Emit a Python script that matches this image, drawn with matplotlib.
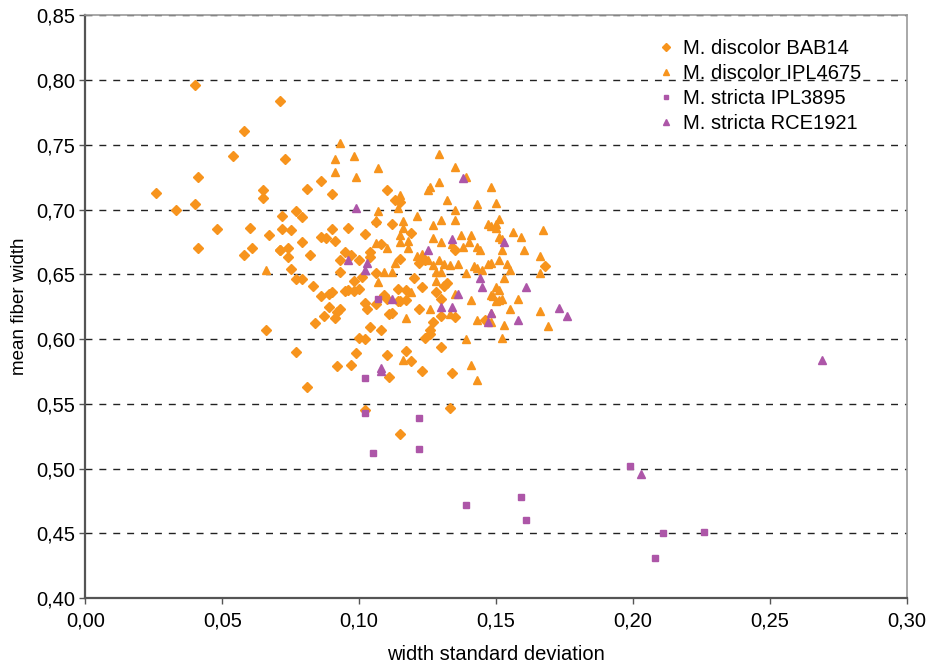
import matplotlib.pyplot as plt
from matplotlib.ticker import FuncFormatter, MultipleLocator

plt.rcParams['font.family'] = ['Liberation Sans', 'DejaVu Sans']
plt.rcParams['font.size'] = 14

ORANGE = '#F7941D'
PURPLE = '#AD56A8'

# M. discolor BAB14 (width sd, mean width)
bab14_sd = [0.040, 0.071, 0.058, 0.054, 0.041, 0.026, 0.065, 0.065, 0.033, 0.040,
            0.048, 0.060, 0.067, 0.041, 0.061, 0.058, 0.071, 0.066,
            0.073, 0.086, 0.081, 0.090, 0.110, 0.113, 0.115, 0.077, 0.072, 0.079,
            0.106, 0.112, 0.072, 0.075, 0.090, 0.096, 0.102, 0.119, 0.086, 0.088,
            0.091, 0.079, 0.108, 0.071, 0.074, 0.082, 0.074, 0.095, 0.104, 0.097,
            0.093, 0.100, 0.104, 0.115,
            0.075, 0.093, 0.101, 0.106, 0.120, 0.122, 0.124, 0.077, 0.079, 0.083,
            0.098, 0.100, 0.086, 0.089, 0.090, 0.095, 0.096, 0.098, 0.114, 0.117,
            0.123, 0.109, 0.110, 0.114, 0.115, 0.117, 0.102, 0.103, 0.106, 0.089,
            0.093, 0.092, 0.087, 0.091, 0.084, 0.111, 0.112, 0.122, 0.104, 0.108,
            0.100, 0.102, 0.124, 0.077, 0.099, 0.110, 0.117, 0.119, 0.092, 0.097,
            0.111, 0.123,
            0.081, 0.134, 0.102, 0.133, 0.115,
            0.135, 0.168, 0.132, 0.131, 0.128, 0.130, 0.130, 0.135, 0.146, 0.127,
            0.126, 0.126, 0.130]
bab14_mean = [0.796, 0.784, 0.761, 0.741, 0.725, 0.713, 0.715, 0.709, 0.700, 0.704,
              0.685, 0.686, 0.680, 0.670, 0.670, 0.665, 0.669, 0.607,
              0.739, 0.722, 0.716, 0.712, 0.715, 0.707, 0.706, 0.699, 0.695, 0.694,
              0.690, 0.689, 0.685, 0.684, 0.685, 0.686, 0.681, 0.682, 0.679, 0.678,
              0.676, 0.675, 0.673, 0.669, 0.670, 0.665, 0.663, 0.667, 0.667, 0.665,
              0.661, 0.661, 0.663, 0.662,
              0.654, 0.652, 0.648, 0.651, 0.647, 0.659, 0.661, 0.646, 0.646, 0.641,
              0.645, 0.639, 0.633, 0.635, 0.636, 0.637, 0.638, 0.637, 0.639, 0.638,
              0.640, 0.634, 0.631, 0.629, 0.629, 0.630, 0.628, 0.623, 0.627, 0.625,
              0.623, 0.621, 0.618, 0.616, 0.612, 0.619, 0.620, 0.623, 0.609, 0.607,
              0.601, 0.600, 0.601, 0.590, 0.589, 0.588, 0.591, 0.583, 0.579, 0.580,
              0.571, 0.575,
              0.563, 0.574, 0.545, 0.547, 0.527,
              0.669, 0.656, 0.643, 0.641, 0.636, 0.631, 0.618, 0.617, 0.615, 0.613,
              0.607, 0.604, 0.594]

# M. discolor IPL4675
ipl4675_sd = [0.066, 0.093, 0.091, 0.098, 0.091, 0.107, 0.099, 0.115, 0.125, 0.114,
              0.107, 0.121, 0.116, 0.106, 0.116, 0.115, 0.118, 0.115, 0.106, 0.110,
              0.118, 0.121, 0.123, 0.113, 0.109, 0.112, 0.107, 0.119, 0.117, 0.116,
              0.141, 0.143,
              0.129, 0.135, 0.139, 0.129, 0.126, 0.148, 0.132, 0.143, 0.150, 0.135,
              0.130, 0.135, 0.127, 0.147, 0.148, 0.151, 0.150, 0.150, 0.156, 0.167,
              0.127, 0.137, 0.141, 0.130, 0.140, 0.151, 0.152, 0.159, 0.134, 0.138,
              0.143, 0.144, 0.152, 0.160, 0.166, 0.166, 0.125, 0.129, 0.131, 0.127,
              0.133, 0.136, 0.142, 0.143, 0.147, 0.148, 0.151, 0.154, 0.155, 0.145,
              0.128, 0.130, 0.139, 0.153, 0.128, 0.150, 0.151, 0.135, 0.148, 0.149,
              0.152, 0.158, 0.141, 0.150, 0.151, 0.126, 0.155, 0.166, 0.133, 0.148,
              0.143, 0.148, 0.153, 0.169, 0.139, 0.152]
ipl4675_mean = [0.653, 0.751, 0.739, 0.741, 0.729, 0.732, 0.725, 0.711, 0.715, 0.701,
                0.699, 0.695, 0.691, 0.692, 0.686, 0.680, 0.676, 0.675, 0.674, 0.670,
                0.670, 0.664, 0.666, 0.659, 0.652, 0.652, 0.644, 0.636, 0.616, 0.584,
                0.580, 0.568,
                0.743, 0.733, 0.725, 0.721, 0.717, 0.717, 0.707, 0.704, 0.705, 0.700,
                0.692, 0.692, 0.688, 0.689, 0.687, 0.693, 0.686, 0.689, 0.683, 0.684,
                0.678, 0.680, 0.680, 0.675, 0.675, 0.679, 0.677, 0.679, 0.673, 0.671,
                0.671, 0.669, 0.669, 0.669, 0.664, 0.651, 0.661, 0.661, 0.658, 0.657,
                0.657, 0.658, 0.656, 0.655, 0.658, 0.659, 0.661, 0.658, 0.653, 0.653,
                0.652, 0.652, 0.651, 0.647, 0.645, 0.640, 0.638, 0.635, 0.634, 0.633,
                0.631, 0.631, 0.630, 0.629, 0.630, 0.623, 0.623, 0.622, 0.619, 0.620,
                0.615, 0.613, 0.611, 0.610, 0.600, 0.601]

# M. stricta IPL3895
ipl3895_sd = [0.107, 0.102, 0.102, 0.122, 0.105, 0.122, 0.139, 0.159, 0.161,
              0.199, 0.211, 0.226, 0.208]
ipl3895_mean = [0.631, 0.570, 0.543, 0.539, 0.512, 0.515, 0.472, 0.478, 0.460,
                0.502, 0.450, 0.451, 0.431]

# M. stricta RCE1921
rce1921_sd = [0.099, 0.125, 0.096, 0.103, 0.102, 0.112, 0.108, 0.108, 0.138, 0.134,
              0.153, 0.144, 0.145, 0.161, 0.136, 0.130, 0.134, 0.148, 0.147, 0.158,
              0.173, 0.176, 0.269, 0.203]
rce1921_mean = [0.701, 0.669, 0.661, 0.659, 0.653, 0.631, 0.578, 0.575, 0.724, 0.677,
                0.675, 0.647, 0.640, 0.640, 0.635, 0.625, 0.625, 0.620, 0.613, 0.615,
                0.624, 0.618, 0.584, 0.496]

fig = plt.figure(figsize=(9.37, 6.63), dpi=100)
ax = fig.add_axes([0.091, 0.098, 0.877, 0.879])

ax.plot(bab14_sd, bab14_mean, 'D', color=ORANGE, markersize=5.2, linestyle='none',
        label='M. discolor BAB14')
ax.plot(ipl4675_sd, ipl4675_mean, '^', color=ORANGE, markersize=5.2, linestyle='none',
        label='M. discolor IPL4675')
ax.plot(ipl3895_sd, ipl3895_mean, 's', color=PURPLE, markersize=4.0, linestyle='none',
        label='M. stricta IPL3895')
ax.plot(rce1921_sd, rce1921_mean, '^', color=PURPLE, markersize=5.2, linestyle='none',
        label='M. stricta RCE1921')

ax.set_xlim(0, 0.30)
ax.set_ylim(0.40, 0.85)
ax.xaxis.set_major_locator(MultipleLocator(0.05))
ax.yaxis.set_major_locator(MultipleLocator(0.05))
comma = FuncFormatter(lambda v, pos: f'{v:.2f}'.replace('.', ','))
ax.xaxis.set_major_formatter(comma)
ax.yaxis.set_major_formatter(comma)
ax.tick_params(direction='out', length=4, width=1, colors='#555555',
               labelcolor='black', labelsize=14.5)
ax.tick_params(axis='x', pad=6)

# dashed horizontal grid
ax.yaxis.grid(True, color='#222222', linestyle=(0, (5, 5)), linewidth=1)
ax.set_axisbelow(True)

for side in ['left', 'bottom']:
    ax.spines[side].set_color('#555555')
    ax.spines[side].set_linewidth(1.6)
for side in ['top', 'right']:
    ax.spines[side].set_color('#999999')
    ax.spines[side].set_linewidth(1.2)

ax.set_xlabel('width standard deviation', fontsize=14.5, labelpad=10)
ax.set_ylabel('mean fiber width', fontsize=13.5, labelpad=6)

ax.legend(loc='upper left', bbox_to_anchor=(0.672, 0.99), frameon=False,
          fontsize=14.5, markerscale=0.7, handletextpad=0.35, labelspacing=0.3,
          handlelength=1.0)

plt.savefig('out.png', dpi=100)
